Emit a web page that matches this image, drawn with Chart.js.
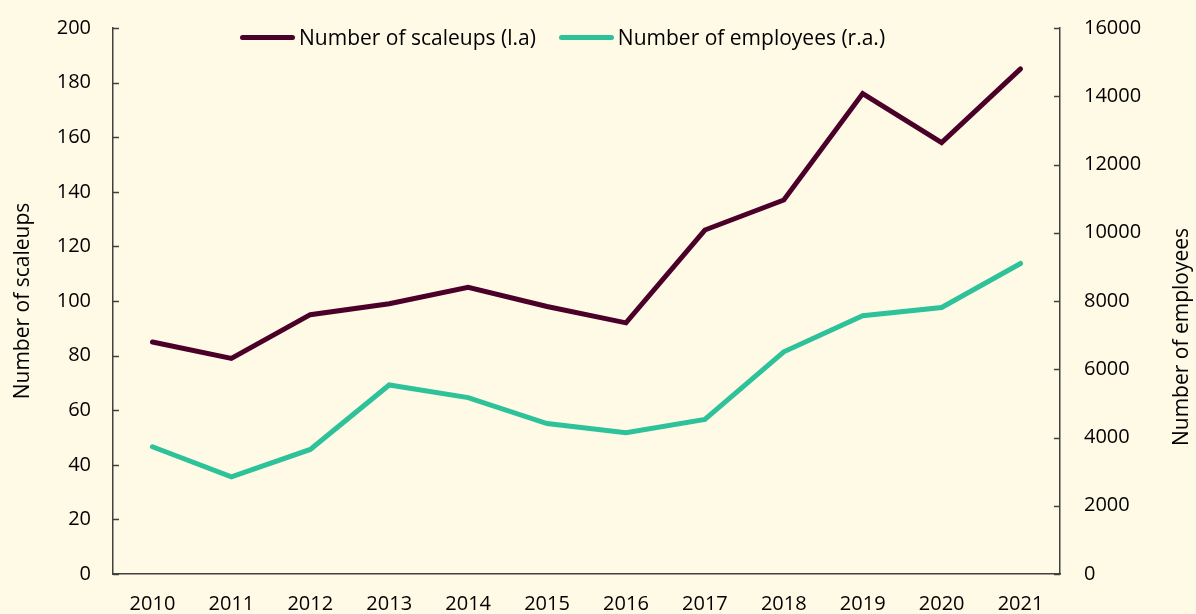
<!DOCTYPE html>
<html lang="en">
<head>
  <meta charset="UTF-8" />
  <title>Scaleups and employees</title>
  <script src="https://cdn.jsdelivr.net/npm/chart.js"></script>
  <style>
    html, body { margin: 0; padding: 0; background: #fffae5; }
    #wrap { width: 1196px; height: 614px; position: relative; }
    #legend {
      position: absolute; left: 240px; top: 23px; height: 28px;
      display: flex; align-items: center; gap: 23px;
      font-family: 'Open Sans', sans-serif; font-size: 21px; color: #000;
    }
    .item { display: flex; align-items: center; gap: 4px; white-space: nowrap; }
    .swatch { width: 55px; height: 5px; border-radius: 3px; }
  </style>
</head>
<body>
  <div id="wrap">
    <canvas id="chart" width="1196" height="614"></canvas>
    <div id="legend"></div>
  </div>

  <script>
    const years = ["2010", "2011", "2012", "2013", "2014", "2015", "2016", "2017", "2018", "2019", "2020", "2021"];
    const scaleups = [85, 79, 95, 99, 105, 98, 92, 126, 137, 176, 158, 185];
    const employees = [3730, 2850, 3650, 5540, 5170, 4410, 4140, 4530, 6510, 7570, 7810, 9100];

    const FONT = "'Open Sans', sans-serif";
    const AXIS = "#404040";

    // tick marks pointing into the plot, plus the right axis title (reads bottom to top)
    const extras = {
      id: "extras",
      afterDraw(chart) {
        const ctx = chart.ctx;
        ctx.save();
        ctx.strokeStyle = AXIS;
        ctx.lineWidth = 1.5;
        [["y", 1], ["y1", -1]].forEach(([id, dir]) => {
          const s = chart.scales[id];
          const x0 = id === "y" ? s.right : s.left;
          s.ticks.forEach(t => {
            const py = Math.round(s.getPixelForValue(t.value)) + 0.5;
            ctx.beginPath();
            ctx.moveTo(x0, py);
            ctx.lineTo(x0 + dir * 6, py);
            ctx.stroke();
          });
        });
        const r = chart.scales.y1;
        ctx.translate(r.right - 14, (chart.chartArea.top + chart.chartArea.bottom) / 2 + 36);
        ctx.rotate(-Math.PI / 2);
        ctx.fillStyle = "#000";
        ctx.font = "21px " + FONT;
        ctx.textAlign = "center";
        ctx.textBaseline = "middle";
        ctx.fillText("Number of employees", 0, 0);
        ctx.restore();
      }
    };

    // fixed axis boxes so the plot area lands where the original has it
    function fixY(width) {
      return s => {
        s.width = width;
        s.paddingTop = 0;
        s.paddingBottom = 0;
      };
    }

    const chart = new Chart(document.getElementById("chart"), {
      type: "line",
      data: {
        labels: years,
        datasets: [
          {
            label: "Number of scaleups (l.a)",
            data: scaleups,
            yAxisID: "y",
            borderColor: "#4a0029",
            backgroundColor: "#4a0029",
            borderWidth: 5,
            borderCapStyle: "round",
            pointRadius: 0,
            tension: 0
          },
          {
            label: "Number of employees (r.a.)",
            data: employees,
            yAxisID: "y1",
            borderColor: "#2ec29b",
            backgroundColor: "#2ec29b",
            borderWidth: 5,
            borderCapStyle: "round",
            pointRadius: 0,
            tension: 0
          }
        ]
      },
      options: {
        responsive: false,
        animation: false,
        layout: { padding: { top: 28, left: 0, right: 0, bottom: 0 } },
        plugins: {
          legend: { display: false },
          tooltip: { enabled: false }
        },
        scales: {
          x: {
            offset: true,
            grid: { display: true, drawOnChartArea: false, drawTicks: false },
            border: { color: AXIS, width: 1.5 },
            ticks: { color: "#000", padding: 18, maxRotation: 0, font: { family: FONT, size: 20 } },
            afterFit(s) { s.height = 40; }
          },
          y: {
            position: "left",
            min: 0,
            max: 200,
            grid: { display: true, drawOnChartArea: false, drawTicks: false },
            border: { color: AXIS, width: 1.5 },
            ticks: { stepSize: 20, color: "#000", padding: 22, font: { family: FONT, size: 20 } },
            title: {
              display: true,
              text: "Number of scaleups",
              color: "#000",
              padding: { top: 10, bottom: 0 },
              font: { family: FONT, size: 21 }
            },
            afterFit: fixY(113)
          },
          y1: {
            position: "right",
            min: 0,
            max: 16000,
            grid: { display: true, drawOnChartArea: false, drawTicks: false },
            border: { color: AXIS, width: 1.5 },
            ticks: {
              stepSize: 2000, color: "#000", padding: 24, font: { family: FONT, size: 20 },
              callback: v => String(v)
            },
            afterFit: fixY(136)
          }
        }
      },
      plugins: [extras]
    });

    // legend sits inside the plot, above the lines
    const legend = document.getElementById("legend");
    chart.data.datasets.forEach(ds => {
      const item = document.createElement("div");
      item.className = "item";
      const sw = document.createElement("span");
      sw.className = "swatch";
      sw.style.background = ds.borderColor;
      const txt = document.createElement("span");
      txt.textContent = ds.label;
      item.appendChild(sw);
      item.appendChild(txt);
      legend.appendChild(item);
    });
  </script>
</body>
</html>
